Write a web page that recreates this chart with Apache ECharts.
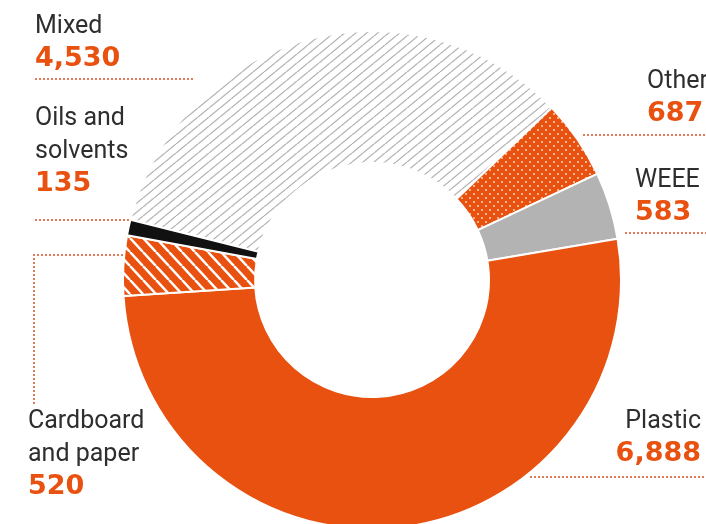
<!DOCTYPE html>
<html>
<head>
<meta charset="utf-8">
<script src="https://cdn.jsdelivr.net/npm/echarts@6/dist/echarts.min.js"></script>
<style>html,body{margin:0;padding:0;background:#fff;}#c{width:706px;height:524px;}</style>
</head>
<body>
<div id="c"></div>
<script>
// ---- data ----
const categories = ['Mixed', 'Other', 'WEEE', 'Plastic', 'Cardboard and paper', 'Oils and solvents'];
const labelNames = ['Mixed', 'Other', 'WEEE', 'Plastic', 'Cardboard\nand paper', 'Oils and\nsolvents'];
const values = [4530, 687, 583, 6888, 520, 135];

// ---- styles ----
const ORANGE = '#E8510F';
function hatch(bg, fg, w, h, lw, dir) {
  const c = document.createElement('canvas'); c.width = w; c.height = h;
  const x = c.getContext('2d');
  x.fillStyle = bg; x.fillRect(0, 0, w, h);
  x.strokeStyle = fg; x.lineWidth = lw; x.beginPath();
  for (let k = -1; k <= 1; k++) {
    if (dir === '/') { x.moveTo(k * w, h); x.lineTo(k * w + w, 0); }
    else { x.moveTo(k * w, 0); x.lineTo(k * w + w, h); }
  }
  x.stroke();
  return c;
}
function dots(bg, fg, s, r) {
  const c = document.createElement('canvas'); c.width = s; c.height = s;
  const x = c.getContext('2d');
  x.fillStyle = bg; x.fillRect(0, 0, s, s);
  x.fillStyle = fg;
  x.fillRect(1, 1, r, r);
  x.fillRect(1 + s / 2, 1 + s / 2, r, r);
  return c;
}
const fills = [
  { image: hatch('#ffffff', '#b4b4b4', 11, 9, 1.3, '/'), repeat: 'repeat' },
  { image: dots(ORANGE, '#f8b48c', 8, 2), repeat: 'repeat' },
  '#b3b3b3',
  ORANGE,
  { image: hatch(ORANGE, '#ffffff', 13, 14, 2.5, '\\'), repeat: 'repeat' },
  '#111111'
];
const labelPos = [
  { x: 35, y: 10, align: 'left' },
  { x: 647, y: 65, align: 'left' },
  { x: 635, y: 164, align: 'left' },
  { x: 701, y: 405, align: 'right' },
  { x: 28, y: 405, align: 'left' },
  { x: 35, y: 102, align: 'left' }
];
const leaders = [
  [[35, 79], [194, 79]],
  [[583, 135], [706, 135]],
  [[625, 233], [706, 233]],
  [[530, 477], [706, 477]],
  [[123, 255], [34, 255], [34, 404]],
  [[35, 220], [130, 220]]
];

const chart = echarts.init(document.getElementById('c'), null, { renderer: 'canvas' });
chart.setOption({
  animation: false,
  backgroundColor: '#ffffff',
  series: [{
    type: 'pie',
    center: [372, 280],
    radius: [117, 249],
    startAngle: 166,
    clockwise: true,
    silent: true,
    avoidLabelOverlap: false,
    data: categories.map((n, i) => ({
      name: n, value: values[i],
      itemStyle: { color: fills[i] }
    })),
    itemStyle: { borderColor: '#ffffff', borderWidth: 2 },
    label: {
      show: true,
      position: 'outside',
      overflow: 'none',
      width: 300,
      formatter: p => '{n|' + labelNames[p.dataIndex].split('\n').join('}\n{n|') + '}\n{v|' + p.value.toLocaleString('en-US') + '}',
      rich: {
        n: { fontFamily: 'Roboto', fontSize: 25, color: '#2e2e2e', lineHeight: 33 },
        v: { fontFamily: 'DejaVu Sans', fontWeight: 'bold', fontSize: 27, color: ORANGE, lineHeight: 32 }
      }
    },
    labelLine: { show: false },
    labelLayout: p => Object.assign({ verticalAlign: 'top' }, labelPos[p.dataIndex])
  }],
  graphic: leaders.map(pts => ({
    type: 'polyline',
    shape: { points: pts },
    style: { stroke: '#e27a5c', lineWidth: 2, lineDash: [2, 2], fill: null },
    silent: true
  }))
});
</script>
</body>
</html>
